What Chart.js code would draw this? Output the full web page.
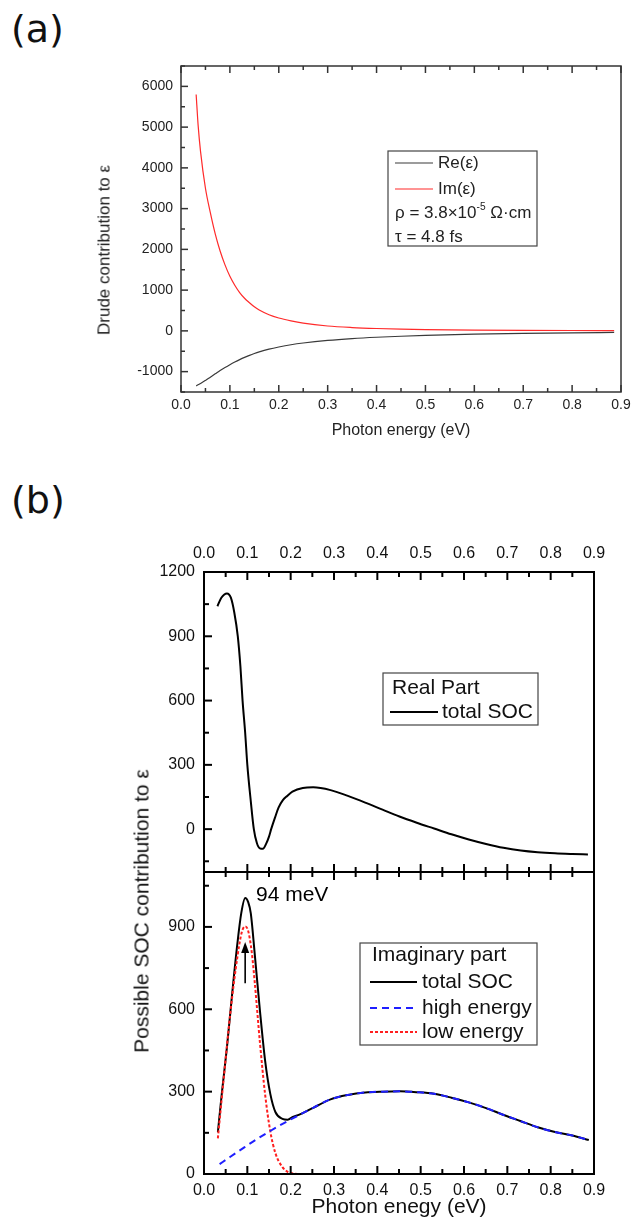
<!DOCTYPE html>
<html>
<head>
<meta charset="utf-8">
<title>Drude and SOC contributions to epsilon</title>
<script src="https://cdn.jsdelivr.net/npm/chart.js@4.4.1/dist/chart.umd.min.js"></script>
<style>
  body { margin: 0; background: #fff; width: 632px; height: 1224px; position: relative; overflow: hidden; }
  .box { position: absolute; left: 0; width: 632px; }
  .box canvas { display: block; }
  .panel { position: absolute; font-family: 'DejaVu Sans', sans-serif; font-size: 38px; line-height: 1; color: #111; }
  .ytitle { position: absolute; transform: translate(-50%, -50%) rotate(-90deg); white-space: nowrap;
            line-height: 1; font-family: 'Liberation Sans', Arial, sans-serif; }
</style>
</head>
<body>
<div class="panel" style="left:11px;top:10px">(a)</div>
<div class="panel" style="left:11px;top:481px">(b)</div>

<div class="box" style="top:40px;height:410px"><canvas id="drudeChart" width="632" height="410"></canvas></div>
<div class="box" style="top:520px;height:352px"><canvas id="realChart" width="632" height="352"></canvas></div>
<div class="box" style="top:872px;height:352px"><canvas id="imagChart" width="632" height="352"></canvas></div>

<div class="ytitle" style="left:104px;top:250px;font-size:17px;color:#222">Drude contribution to ε</div>
<div class="ytitle" style="left:141px;top:911px;font-size:21px;color:#111">Possible SOC contribution to ε</div>

<script>
// ---- (a) Drude term ----
var drudeEnergy = [0.031, 0.035, 0.04, 0.05, 0.06, 0.07, 0.08, 0.09, 0.10, 0.11, 0.12, 0.13, 0.14, 0.15,
                   0.16, 0.18, 0.20, 0.225, 0.25, 0.30, 0.35, 0.40, 0.45, 0.50, 0.60, 0.70, 0.80, 0.886];
var drudeRe = [-1350, -1322, -1290, -1215, -1135, -1055, -975, -900, -830, -765, -705, -650, -600, -555,
               -515, -448, -395, -340, -298, -235, -190, -157, -132, -112, -82, -62, -48, -39];
var drudeIm = [5800, 5050, 4400, 3500, 2900, 2380, 1960, 1620, 1340, 1120, 940, 800, 690, 590,
               510, 395, 315, 245, 190, 120, 82, 58, 42, 32, 20, 13, 9, 7];

// ---- (b) SOC term, real part ----
var reEnergy = [0.031, 0.040, 0.053, 0.062, 0.070, 0.078, 0.084, 0.089, 0.095, 0.100, 0.108, 0.115, 0.122,
                0.129, 0.136, 0.143, 0.150, 0.155, 0.164, 0.172, 0.182, 0.192, 0.204, 0.228, 0.252, 0.292,
                0.332, 0.372, 0.412, 0.451, 0.491, 0.531, 0.571, 0.611, 0.651, 0.691, 0.731, 0.770, 0.810,
                0.850, 0.886];
var reTotal = [1040, 1080, 1100, 1080, 1010, 900, 760, 600, 450, 300, 130, 0, -65,
               -90, -92, -70, -35, 0, 55, 100, 135, 155, 175, 192, 195, 182,
               155, 124, 91, 59, 30, 3, -24, -48, -69, -87, -100, -108, -113,
               -116, -118];

// ---- (b) SOC term, imaginary part ----
var imEnergy = [0.032, 0.041, 0.053, 0.065, 0.077, 0.086, 0.095, 0.102, 0.108, 0.117, 0.129, 0.141,
                0.153, 0.165, 0.181, 0.193, 0.205, 0.220, 0.253, 0.292, 0.332, 0.372, 0.412, 0.452, 0.491,
                0.531, 0.571, 0.611, 0.651, 0.690, 0.730, 0.770, 0.810, 0.850, 0.888];
var imTotal = [152, 292, 462, 657, 839, 950, 1005, 990, 949, 803, 596, 413,
               292, 225, 201, 198, 208, 216, 242, 272, 288, 297, 300, 301, 298,
               292, 278, 261, 240, 216, 193, 170, 153, 140, 124];

var highEnergy = [0.036, 0.060, 0.093, 0.120, 0.149, 0.175, 0.197, 0.220, 0.253, 0.292, 0.332, 0.372,
                  0.412, 0.452, 0.491, 0.531, 0.571, 0.611, 0.651, 0.690, 0.730, 0.770, 0.810, 0.850, 0.888];
var highValues = [36, 62, 97, 125, 153, 177, 196, 215, 242, 272, 288, 297,
                  300, 301, 298, 292, 278, 261, 240, 216, 193, 170, 153, 140, 124];

var lowEnergy = [0.032, 0.045, 0.061, 0.077, 0.087, 0.095, 0.102, 0.110, 0.117, 0.129, 0.141, 0.153,
                 0.165, 0.181, 0.193, 0.205, 0.221];
var lowValues = [130, 340, 590, 790, 880, 902, 885, 810, 700, 480, 290, 155,
                 75, 25, 8, 2, 0];

// tick labels
var energyTicks = [0, 0.1, 0.2, 0.3, 0.4, 0.5, 0.6, 0.7, 0.8, 0.9];
var drudeTicks = [-1000, 0, 1000, 2000, 3000, 4000, 5000, 6000];
var realTicks = [0, 300, 600, 900, 1200];
var imagTicks = [0, 300, 600, 900];

var FONT = "'Liberation Sans', Arial, sans-serif";
Chart.defaults.font.family = FONT;
Chart.defaults.color = '#000';

function pts(xs, ys) {
    return xs.map(function (x, i) { return { x: x, y: ys[i] }; });
}

// minor ticks half way between the labelled ones, kept inside [lo, hi]
function halfSteps(major, lo, hi) {
    var step = major[1] - major[0];
    var out = [];
    for (var v = major[0] - step / 2; v <= hi + 1e-9; v += step) {
        if (v >= lo - 1e-9) out.push(v);
    }
    return out;
}

// closed frame with inward ticks (left, top, bottom)
var frameTicks = {
    id: 'frameTicks',
    afterDatasetsDraw: function (chart, args, o) {
        if (!o.xMajor) return;
        var ctx = chart.ctx, a = chart.chartArea;
        var xs = chart.scales.x, ys = chart.scales.y;
        ctx.save();
        ctx.strokeStyle = o.color;
        ctx.lineWidth = o.width;
        function seg(x1, y1, x2, y2) { ctx.beginPath(); ctx.moveTo(x1, y1); ctx.lineTo(x2, y2); ctx.stroke(); }
        var xt = o.xMajor.map(function (v) { return [v, o.major]; })
            .concat(o.xMinor.map(function (v) { return [v, o.minor]; }));
        var yt = o.yMajor.map(function (v) { return [v, o.major]; })
            .concat(o.yMinor.map(function (v) { return [v, o.minor]; }));
        xt.forEach(function (t) {
            var px = xs.getPixelForValue(t[0]);
            seg(px, a.top, px, a.top + t[1]);
            seg(px, a.bottom, px, a.bottom - t[1]);
        });
        yt.forEach(function (t) {
            var py = ys.getPixelForValue(t[0]);
            seg(a.left, py, a.left + t[1], py);
        });
        ctx.strokeRect(a.left, a.top, a.right - a.left, a.bottom - a.top);
        ctx.restore();
    }
};

// boxed legend with optional extra text rows
var boxLegend = {
    id: 'boxLegend',
    afterDraw: function (chart, args, o) {
        if (!o.rows) return;
        var ctx = chart.ctx, a = chart.chartArea;
        ctx.save();
        ctx.strokeStyle = o.border;
        ctx.lineWidth = 1.2;
        ctx.strokeRect(a.left + o.box[0], a.top + o.box[1], o.box[2], o.box[3]);
        ctx.textBaseline = 'middle';
        ctx.fillStyle = o.textColor;
        o.rows.forEach(function (r) {
            var y = a.top + r.y;
            if (r.dataset !== undefined) {
                var ds = chart.data.datasets[r.dataset];
                ctx.save();
                ctx.strokeStyle = ds.borderColor;
                ctx.lineWidth = ds.borderWidth;
                ctx.setLineDash(ds.borderDash || []);
                ctx.beginPath();
                ctx.moveTo(a.left + o.line[0], y);
                ctx.lineTo(a.left + o.line[1], y);
                ctx.stroke();
                ctx.restore();
            }
            var x = a.left + r.x;
            var parts = r.parts || [r.text];
            parts.forEach(function (p, i) {
                var sup = r.parts && i % 2 === 1;
                var size = sup ? o.size * 0.6 : o.size;
                ctx.font = size + 'px ' + FONT;
                ctx.fillText(p, x, sup ? y - o.size * 0.35 : y);
                x += ctx.measureText(p).width;
            });
        });
        ctx.restore();
    }
};

// arrow and label at the low-energy peak
var peakNote = {
    id: 'peakNote',
    afterDatasetsDraw: function (chart, args, o) {
        if (!o.label) return;
        var ctx = chart.ctx, xs = chart.scales.x, ys = chart.scales.y;
        var ax = xs.getPixelForValue(o.arrowAt);
        var y0 = ys.getPixelForValue(o.arrowFrom), y1 = ys.getPixelForValue(o.arrowTo);
        ctx.save();
        ctx.strokeStyle = '#000';
        ctx.fillStyle = '#000';
        ctx.lineWidth = 1.6;
        ctx.beginPath(); ctx.moveTo(ax, y0); ctx.lineTo(ax, y1 + 8); ctx.stroke();
        ctx.beginPath();
        ctx.moveTo(ax, y1); ctx.lineTo(ax - 4, y1 + 11); ctx.lineTo(ax + 4, y1 + 11);
        ctx.closePath(); ctx.fill();
        ctx.font = '21px ' + FONT;
        ctx.textBaseline = 'middle';
        ctx.fillText(o.label, xs.getPixelForValue(o.labelAt[0]), ys.getPixelForValue(o.labelAt[1]));
        ctx.restore();
    }
};

Chart.register(frameTicks, boxLegend, peakNote);

// fixed-size axes; edge labels may overhang the plot area
function energyAxis(position, height, pad, size, color, title) {
    return {
        type: 'linear', position: position, min: 0, max: 0.9,
        grid: { display: false, drawTicks: false }, border: { display: false },
        afterBuildTicks: function (s) { s.ticks = energyTicks.map(function (v) { return { value: v }; }); },
        afterFit: function (s) { s.height = height; s.paddingLeft = 0; s.paddingRight = 0; },
        ticks: { padding: pad, font: { size: size }, color: color, maxRotation: 0,
                 callback: function (v) { return v.toFixed(1); } },
        title: title
    };
}

function valueAxis(min, max, tickList, width, pad, size, color) {
    return {
        type: 'linear', min: min, max: max,
        grid: { display: false, drawTicks: false }, border: { display: false },
        afterBuildTicks: function (s) { s.ticks = tickList.map(function (v) { return { value: v }; }); },
        afterFit: function (s) { s.width = width; s.paddingTop = 0; s.paddingBottom = 0; },
        ticks: { padding: pad, font: { size: size }, color: color, callback: function (v) { return String(v); } }
    };
}

var common = {
    responsive: false,
    animation: false,
    devicePixelRatio: 1,
    elements: { point: { radius: 0 }, line: { cubicInterpolationMode: 'monotone' } },
    events: []
};

// (a) Drude contribution
new Chart(document.getElementById('drudeChart'), {
    type: 'line',
    data: {
        datasets: [
            { label: 'Re(ε)', data: pts(drudeEnergy, drudeRe), borderColor: '#3a3a3a', borderWidth: 1.2 },
            { label: 'Im(ε)', data: pts(drudeEnergy, drudeIm), borderColor: '#ff2a2a', borderWidth: 1.2 }
        ]
    },
    options: Object.assign({}, common, {
        layout: { padding: { left: 100, top: 26, right: 11, bottom: 6 } },
        scales: {
            x: energyAxis('bottom', 52, 5, 14, '#222',
                { display: true, text: 'Photon energy (eV)', font: { size: 16 }, color: '#222', padding: 4 }),
            y: valueAxis(-1500, 6500, drudeTicks, 81, 8, 14, '#222')
        },
        plugins: {
            legend: { display: false }, tooltip: { enabled: false },
            frameTicks: {
                color: '#333', width: 1.5, major: 7, minor: 4,
                xMajor: energyTicks, xMinor: halfSteps(energyTicks, 0, 0.9),
                yMajor: drudeTicks, yMinor: halfSteps(drudeTicks, -1500, 6500)
            },
            boxLegend: {
                box: [207, 85, 149, 95], line: [214, 252], size: 17, border: '#444', textColor: '#222',
                rows: [
                    { y: 97, x: 257, text: 'Re(ε)', dataset: 0 },
                    { y: 123, x: 257, text: 'Im(ε)', dataset: 1 },
                    { y: 147, x: 214, parts: ['ρ = 3.8×10', '-5', ' Ω·cm'] },
                    { y: 171, x: 214, text: 'τ = 4.8 fs' }
                ]
            }
        }
    })
});

// (b) upper panel: real part
new Chart(document.getElementById('realChart'), {
    type: 'line',
    data: {
        datasets: [
            { label: 'total SOC', data: pts(reEnergy, reTotal), borderColor: '#000', borderWidth: 2 }
        ]
    },
    options: Object.assign({}, common, {
        layout: { padding: { left: 0, top: 0, right: 38, bottom: 0 } },
        scales: {
            x: energyAxis('top', 52, 9, 16, '#111', { display: false }),
            y: valueAxis(-200, 1200, realTicks, 204, 9, 16, '#111')
        },
        plugins: {
            legend: { display: false }, tooltip: { enabled: false },
            frameTicks: {
                color: '#000', width: 2, major: 8, minor: 5,
                xMajor: energyTicks, xMinor: halfSteps(energyTicks, 0, 0.9),
                yMajor: realTicks, yMinor: halfSteps(realTicks, -200, 1200)
            },
            boxLegend: {
                box: [179, 101, 155, 52], line: [186, 234], size: 21, border: '#444', textColor: '#111',
                rows: [
                    { y: 116, x: 188, text: 'Real Part' },
                    { y: 140, x: 238, text: 'total SOC', dataset: 0 }
                ]
            }
        }
    })
});

// (b) lower panel: imaginary part
new Chart(document.getElementById('imagChart'), {
    type: 'line',
    data: {
        datasets: [
            { label: 'total SOC', data: pts(imEnergy, imTotal), borderColor: '#000', borderWidth: 2, order: 3 },
            { label: 'high energy', data: pts(highEnergy, highValues), borderColor: '#1f1fff', borderWidth: 2,
              borderDash: [7, 5], order: 1 },
            { label: 'low energy', data: pts(lowEnergy, lowValues), borderColor: '#ff1f1f', borderWidth: 2,
              borderDash: [3, 2], order: 2 }
        ]
    },
    options: Object.assign({}, common, {
        layout: { padding: { left: 0, top: 0, right: 38, bottom: 0 } },
        scales: {
            x: energyAxis('bottom', 50, 7, 16, '#111',
                { display: true, text: 'Photon enegy (eV)', font: { size: 21 }, color: '#111', padding: 4 }),
            y: valueAxis(0, 1100, imagTicks, 204, 9, 16, '#111')
        },
        plugins: {
            legend: { display: false }, tooltip: { enabled: false },
            frameTicks: {
                color: '#000', width: 2, major: 8, minor: 5,
                xMajor: energyTicks, xMinor: halfSteps(energyTicks, 0, 0.9),
                yMajor: imagTicks, yMinor: halfSteps(imagTicks, 0, 1100)
            },
            boxLegend: {
                box: [156, 71, 177, 102], line: [166, 213], size: 21, border: '#444', textColor: '#111',
                rows: [
                    { y: 83, x: 168, text: 'Imaginary part' },
                    { y: 110, x: 218, text: 'total SOC', dataset: 0 },
                    { y: 136, x: 218, text: 'high energy', dataset: 1 },
                    { y: 160, x: 218, text: 'low energy', dataset: 2 }
                ]
            },
            peakNote: { arrowAt: 0.095, arrowFrom: 695, arrowTo: 845, label: '94 meV', labelAt: [0.12, 1015] }
        }
    })
});
</script>
</body>
</html>
